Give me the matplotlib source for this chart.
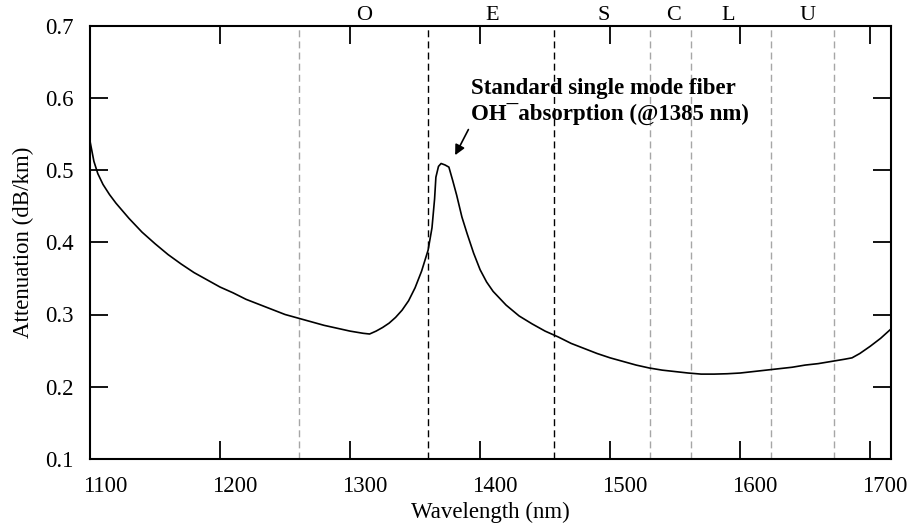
import matplotlib
matplotlib.use("Agg")
import matplotlib.pyplot as plt
import matplotlib.transforms as mtransforms

plt.rcParams['font.family'] = ['Liberation Serif', 'DejaVu Serif']

# Attenuation curve
wavelength_nm = [1100, 1103, 1106, 1110, 1115, 1120, 1130, 1140, 1150, 1160, 1170,
                 1180, 1190, 1200, 1210, 1220, 1230, 1240, 1250, 1260, 1270, 1280,
                 1290, 1300, 1310, 1315, 1320, 1325, 1330, 1335, 1340, 1345, 1350,
                 1355, 1360, 1363, 1365, 1366, 1368, 1370, 1373, 1376, 1379, 1382,
                 1386, 1390, 1395, 1400, 1405, 1410, 1420, 1430, 1440, 1450, 1460,
                 1470, 1480, 1490, 1500, 1510, 1520, 1530, 1540, 1550, 1560, 1570,
                 1580, 1590, 1600, 1610, 1620, 1630, 1640, 1650, 1660, 1670, 1680,
                 1686, 1692, 1700, 1708, 1716]
attenuation = [0.540, 0.512, 0.495, 0.480, 0.466, 0.454, 0.433, 0.414, 0.398, 0.383, 0.370,
               0.358, 0.348, 0.338, 0.330, 0.321, 0.314, 0.307, 0.300, 0.295, 0.290, 0.285,
               0.281, 0.277, 0.274, 0.273, 0.277, 0.282, 0.288, 0.296, 0.306, 0.319, 0.337,
               0.360, 0.389, 0.420, 0.460, 0.490, 0.505, 0.509, 0.507, 0.504, 0.485, 0.465,
               0.435, 0.412, 0.385, 0.362, 0.345, 0.332, 0.313, 0.298, 0.287, 0.277, 0.269,
               0.260, 0.253, 0.246, 0.240, 0.235, 0.230, 0.226, 0.223, 0.221, 0.219, 0.2175,
               0.2175, 0.218, 0.219, 0.221, 0.223, 0.225, 0.227, 0.230, 0.232, 0.235, 0.238,
               0.240, 0.246, 0.256, 0.267, 0.280]

# Band boundaries (as drawn) and band labels
band_edges = [1261, 1360, 1457, 1531, 1562, 1624, 1672]
band_edge_dark = [False, True, True, False, False, False, False]
band_names = ['O', 'E', 'S', 'C', 'L', 'U']
band_label_pos = [1311, 1409, 1495, 1549, 1591, 1652]

xticks = [1100, 1200, 1300, 1400, 1500, 1600, 1700]
yticks = [0.1, 0.2, 0.3, 0.4, 0.5, 0.6, 0.7]

fig = plt.figure(figsize=(9.11, 5.29), dpi=100)
ax = fig.add_axes([90/911, 1-459/529, (891-90)/911, (459-25.5)/529])

ax.set_xlim(1100, 1716)
ax.set_ylim(0.1, 0.7)

for edge, dark in zip(band_edges, band_edge_dark):
    ax.axvline(edge, color='black' if dark else '#a6a6a6', lw=1.0,
               dashes=(5, 3), zorder=1)

ax.plot(wavelength_nm, attenuation, color='black', lw=1.2, zorder=3,
        solid_joinstyle='round')

# Band letters above the axes
for pos, name in zip(band_label_pos, band_names):
    ax.text(pos, 1.024, name, transform=ax.get_xaxis_transform(),
            ha='center', va='center', fontsize=16)

ax.set_xticks(xticks)
ax.set_yticks(yticks)
ax.set_xticklabels([str(t) for t in xticks])
ax.set_yticklabels([f"{t:.1f}" for t in yticks])
ax.tick_params(direction='in', length=13, width=1.3, top=True, right=True,
               labelsize=16.5, color='black')
ax.tick_params(axis='x', pad=12)
ax.tick_params(axis='y', pad=12)

offset = mtransforms.ScaledTranslation(0.15, 0, fig.dpi_scale_trans)
for lab in ax.get_xticklabels():
    lab.set_transform(lab.get_transform() + offset)

for sp in ax.spines.values():
    sp.set_linewidth(1.5)

ax.set_xlabel('Wavelength (nm)', fontsize=16.5, labelpad=4)
ax.set_ylabel('Attenuation (dB/km)', fontsize=16.5, labelpad=8)

ax.text(1393, 0.594, 'Standard single mode fiber\nOH\u00AFabsorption (@1385 nm)',
        fontsize=16.5, fontweight='bold', ha='left', va='center', linespacing=1.3)
ax.annotate('', xy=(1380.8, 0.5205), xytext=(1391, 0.556),
            arrowprops=dict(arrowstyle='-|>', color='black', lw=1.2,
                            mutation_scale=15, shrinkA=0, shrinkB=0))

fig.savefig('out.png', dpi=100)
